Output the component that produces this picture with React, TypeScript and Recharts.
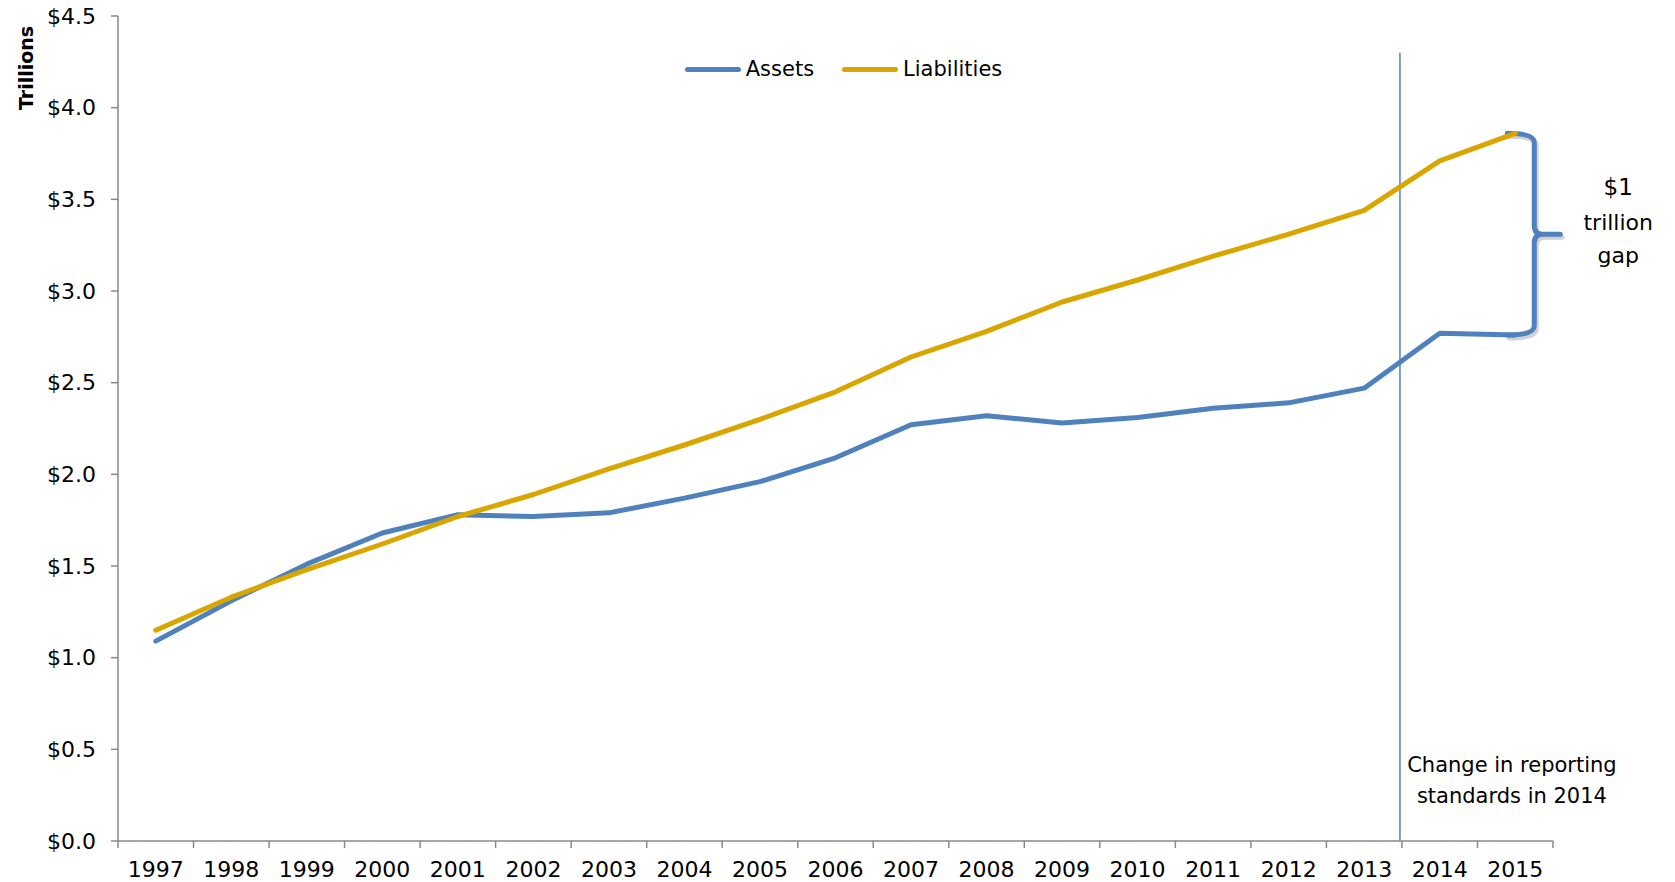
import React from 'react';
import { LineChart, Line, XAxis, YAxis, ReferenceLine, Legend } from 'recharts';

const years = ['1997', '1998', '1999', '2000', '2001', '2002', '2003', '2004', '2005', '2006', '2007', '2008', '2009', '2010', '2011', '2012', '2013', '2014', '2015'];
const assets = [1.09, 1.31, 1.51, 1.68, 1.78, 1.77, 1.79, 1.87, 1.96, 2.09, 2.27, 2.32, 2.28, 2.31, 2.36, 2.39, 2.47, 2.77, 2.76];
const liabilities = [1.15, 1.33, 1.48, 1.62, 1.77, 1.89, 2.03, 2.16, 2.30, 2.45, 2.64, 2.78, 2.94, 3.06, 3.19, 3.31, 3.44, 3.71, 3.86];
const yTicks = [0, 0.5, 1, 1.5, 2, 2.5, 3, 3.5, 4, 4.5];

const data = years.map((year, i) => ({ year, Assets: assets[i], Liabilities: liabilities[i] }));

const W = 1675;
const H = 882;
const FONT = '"DejaVu Sans", sans-serif';
const BLUE = '#4F81BD';
const GOLD = '#D9A600';
const AXIS = '#898989';
const margin = { top: 16, right: 122, bottom: 11, left: 38 };
const BAND = (W - 118 - margin.right) / years.length;

const XTick = (props: any) => {
  const { x, y, payload, index } = props;
  const last = index === years.length - 1;
  return (
    <g>
      <line x1={x - BAND / 2} x2={x - BAND / 2} y1={y} y2={y + 7} stroke={AXIS} strokeWidth={1.5} />
      {last && <line x1={x + BAND / 2} x2={x + BAND / 2} y1={y} y2={y + 7} stroke={AXIS} strokeWidth={1.5} />}
      <text x={x} y={y + 36} textAnchor="middle" fill="#000" fontSize={22} fontFamily={FONT}>
        {payload.value}
      </text>
    </g>
  );
};

const LegendContent = (props: any) => (
  <div style={{ display: 'flex', justifyContent: 'center', alignItems: 'center', fontFamily: FONT, fontSize: 21, color: '#000', paddingLeft: 40 }}>
    {(props.payload || []).map((item: any) => (
      <div key={item.value} style={{ display: 'flex', alignItems: 'center', marginRight: 28 }}>
        <span style={{ display: 'inline-block', width: 56, height: 5, borderRadius: 3, background: item.color, marginRight: 5 }} />
        <span>{item.value}</span>
      </div>
    ))}
  </div>
);

const ChangeLine = (p: any) => (
  <g>
    <line x1={p.x1 - 2} x2={p.x2 - 2} y1={p.y1} y2={p.y2} stroke={BLUE} strokeWidth={1.5} />
    <text x={p.x1 + 110} y={772} textAnchor="middle" fill="#000" fontSize={21} fontFamily={FONT}>
      Change in reporting
    </text>
    <text x={p.x1 + 110} y={803} textAnchor="middle" fill="#000" fontSize={21} fontFamily={FONT}>
      standards in 2014
    </text>
  </g>
);

const Brace = (p: any) => {
  const yTop = Math.min(p.y1, p.y2);
  const yBot = Math.max(p.y1, p.y2);
  const ym = (yTop + yBot) / 2;
  const xl = p.x1 - 8;
  const xv = p.x1 + 19;
  const xt = p.x1 + 45;
  const d = `M ${xl} ${yTop} Q ${xv} ${yTop} ${xv} ${yTop + 9} L ${xv} ${ym - 9} Q ${xv} ${ym} ${xv + 8} ${ym} L ${xt} ${ym} M ${xv + 8} ${ym} Q ${xv} ${ym} ${xv} ${ym + 9} L ${xv} ${yBot - 9} Q ${xv} ${yBot} ${xl} ${yBot}`;
  const tx = p.x1 + 103;
  return (
    <g>
      <path d={d} transform="translate(2,3)" stroke="#000" strokeOpacity={0.18} strokeWidth={5} fill="none" strokeLinecap="round" />
      <path d={d} stroke={BLUE} strokeWidth={5} fill="none" strokeLinecap="round" strokeLinejoin="round" />
      <text x={tx} y={ym - 39} textAnchor="middle" fill="#000" fontSize={23} fontFamily={FONT}>$1</text>
      <text x={tx} y={ym - 4} textAnchor="middle" fill="#000" fontSize={22} fontFamily={FONT}>trillion</text>
      <text x={tx} y={ym + 29} textAnchor="middle" fill="#000" fontSize={22} fontFamily={FONT}>gap</text>
    </g>
  );
};

const TrillionsLabel = () => (
  <text x={33} y={68} transform="rotate(-90 33 68)" textAnchor="middle" fontWeight="bold" fontSize={19} fill="#000" fontFamily={FONT}>
    Trillions
  </text>
);

export default function App() {
  return (
    <div style={{ width: W, height: H, background: '#fff' }}>
      <style>{'body{margin:0}'}</style>
      <LineChart width={W} height={H} data={data} margin={margin} style={{ fontFamily: FONT }}>
        <XAxis
          dataKey="year"
          scale="band"
          height={30}
          tickSize={0}
          tickMargin={0}
          tickLine={false}
          interval={0}
          axisLine={{ stroke: AXIS, strokeWidth: 1.5 }}
          tick={<XTick />}
        />
        <YAxis
          width={80}
          domain={[0, 4.5]}
          ticks={yTicks}
          interval={0}
          tickSize={7}
          tickMargin={15}
          axisLine={{ stroke: AXIS, strokeWidth: 1.5 }}
          tickLine={{ stroke: AXIS, strokeWidth: 1.5 }}
          tick={{ fill: '#000', fontSize: 22, fontFamily: FONT }}
          tickFormatter={(v: number) => `$${v.toFixed(1)}`}
          label={{ content: <TrillionsLabel /> }}
        />
        <Legend
          layout="vertical"
          align="center"
          verticalAlign="middle"
          wrapperStyle={{ top: 57, left: 0, width: W }}
          content={<LegendContent />}
        />
        <ReferenceLine
          segment={[{ x: '2013', y: 4.3 }, { x: '2013', y: 0 }]}
          position="end"
          ifOverflow="visible"
          shape={<ChangeLine />}
        />
        <ReferenceLine
          segment={[{ x: '2015', y: liabilities[liabilities.length - 1] }, { x: '2015', y: assets[assets.length - 1] }]}
          ifOverflow="visible"
          shape={<Brace />}
        />
        <Line type="linear" dataKey="Assets" stroke={BLUE} strokeWidth={5} strokeLinecap="round" strokeLinejoin="round" dot={false} isAnimationActive={false} />
        <Line type="linear" dataKey="Liabilities" stroke={GOLD} strokeWidth={5} strokeLinecap="round" strokeLinejoin="round" dot={false} isAnimationActive={false} />
      </LineChart>
    </div>
  );
}
